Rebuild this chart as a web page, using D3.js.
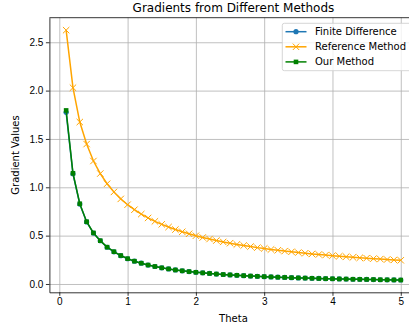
<!DOCTYPE html>
<html>
<head>
<meta charset="utf-8">
<script src="https://cdn.jsdelivr.net/npm/d3@7"></script>
<style>
  body { margin: 0; background: #fff; }
  svg { display: block; font-family: "DejaVu Sans", sans-serif; }
  .grid line { stroke: #b0b0b0; stroke-width: 0.8; }
  .grid path { display: none; }
  .axis path, .axis line { stroke: #000; stroke-width: 0.8; }
  .axis text { font-size: 10px; fill: #000; }
</style>
</head>
<body>
<svg id="chart" width="409" height="328"></svg>
<script>
const theta = [0.1, 0.2, 0.3, 0.4, 0.5, 0.6, 0.7, 0.8, 0.9, 1.0,
  1.1, 1.2, 1.3, 1.4, 1.5, 1.6, 1.7, 1.8, 1.9, 2.0,
  2.1, 2.2, 2.3, 2.4, 2.5, 2.6, 2.7, 2.8, 2.9, 3.0,
  3.1, 3.2, 3.3, 3.4, 3.5, 3.6, 3.7, 3.8, 3.9, 4.0,
  4.1, 4.2, 4.3, 4.4, 4.5, 4.6, 4.7, 4.8, 4.9, 5.0];

const finiteDiff = [1.775, 1.140, 0.826, 0.642, 0.527, 0.447, 0.380, 0.333, 0.293, 0.261,
  0.236, 0.215, 0.196, 0.181, 0.167, 0.156, 0.145, 0.136, 0.128, 0.121,
  0.115, 0.109, 0.103, 0.098, 0.094, 0.090, 0.086, 0.082, 0.079, 0.076,
  0.073, 0.070, 0.068, 0.065, 0.063, 0.061, 0.059, 0.057, 0.055, 0.054,
  0.052, 0.051, 0.049, 0.048, 0.047, 0.046, 0.044, 0.043, 0.042, 0.041];

const referenceMethod = [2.625, 2.030, 1.675, 1.447, 1.272, 1.142, 1.037, 0.952, 0.880, 0.820,
  0.768, 0.723, 0.683, 0.648, 0.617, 0.589, 0.563, 0.540, 0.519, 0.499,
  0.481, 0.465, 0.449, 0.435, 0.422, 0.409, 0.398, 0.387, 0.376, 0.367,
  0.357, 0.349, 0.340, 0.333, 0.325, 0.318, 0.311, 0.305, 0.299, 0.293,
  0.287, 0.282, 0.276, 0.271, 0.267, 0.262, 0.258, 0.253, 0.249, 0.245];

const ourMethod = [1.795, 1.145, 0.830, 0.644, 0.528, 0.448, 0.381, 0.334, 0.294, 0.262,
  0.236, 0.215, 0.196, 0.181, 0.167, 0.156, 0.145, 0.136, 0.128, 0.121,
  0.115, 0.109, 0.103, 0.098, 0.094, 0.090, 0.086, 0.082, 0.079, 0.076,
  0.073, 0.070, 0.068, 0.065, 0.063, 0.061, 0.059, 0.057, 0.055, 0.054,
  0.052, 0.051, 0.049, 0.048, 0.047, 0.046, 0.044, 0.043, 0.042, 0.041];

const xTicks = [0, 1, 2, 3, 4, 5];
const yTicks = [0.0, 0.5, 1.0, 1.5, 2.0, 2.5];

const svg = d3.select('#chart');

// axes box (right edge runs past the window, like the reference)
const axLeft = 49.4, axRight = 417.5, axTop = 17.7, axBottom = 292.3;

const x = d3.scaleLinear().domain([-0.145, 5.245]).range([axLeft, axRight]);
const y = d3.scaleLinear().domain([-0.086, 2.754]).range([axBottom, axTop]);

svg.append('defs').append('clipPath').attr('id', 'plotclip')
  .append('rect')
  .attr('x', axLeft).attr('y', axTop)
  .attr('width', axRight - axLeft).attr('height', axBottom - axTop);

// grid
svg.append('g')
  .attr('class', 'grid')
  .attr('transform', `translate(0,${axBottom})`)
  .call(d3.axisBottom(x).tickValues(xTicks).tickSize(-(axBottom - axTop)).tickFormat(() => ''));

svg.append('g')
  .attr('class', 'grid')
  .attr('transform', `translate(${axLeft},0)`)
  .call(d3.axisLeft(y).tickValues(yTicks).tickSize(-(axRight - axLeft)).tickFormat(() => ''));

// series
const series = [
  { name: 'Finite Difference', values: finiteDiff, color: '#1f77b4', marker: 'circle' },
  { name: 'Reference Method', values: referenceMethod, color: '#ffa500', marker: 'x' },
  { name: 'Our Method', values: ourMethod, color: '#008000', marker: 'square' }
];

const line = d3.line()
  .x(d => x(d[0]))
  .y(d => y(d[1]));

function drawMarker(g, kind, color, cx, cy) {
  if (kind === 'circle') {
    g.append('circle').attr('cx', cx).attr('cy', cy).attr('r', 2.6).attr('fill', color);
  } else if (kind === 'square') {
    g.append('rect').attr('x', cx - 2.3).attr('y', cy - 2.3)
      .attr('width', 4.6).attr('height', 4.6).attr('fill', color);
  } else {
    const s = 3.2;
    g.append('path')
      .attr('d', `M${cx - s},${cy - s}L${cx + s},${cy + s}M${cx - s},${cy + s}L${cx + s},${cy - s}`)
      .attr('stroke', color).attr('stroke-width', 1).attr('fill', 'none');
  }
}

const plot = svg.append('g').attr('clip-path', 'url(#plotclip)');

series.forEach(s => {
  const pts = theta.map((t, i) => [t, s.values[i]]);
  const g = plot.append('g');
  g.append('path')
    .datum(pts)
    .attr('d', line)
    .attr('fill', 'none')
    .attr('stroke', s.color)
    .attr('stroke-width', 1.5);
  pts.forEach(p => drawMarker(g, s.marker, s.color, x(p[0]), y(p[1])));
});

// axes
svg.append('g')
  .attr('class', 'axis')
  .attr('transform', `translate(0,${axBottom})`)
  .call(d3.axisBottom(x).tickValues(xTicks).tickSizeInner(3.5).tickSizeOuter(0).tickPadding(2.5).tickFormat(d3.format('d')));

svg.append('g')
  .attr('class', 'axis')
  .attr('transform', `translate(${axLeft},0)`)
  .call(d3.axisLeft(y).tickValues(yTicks).tickSizeInner(3.5).tickSizeOuter(0).tickPadding(2.5).tickFormat(d3.format('.1f')));

// top spine
svg.append('line')
  .attr('x1', axLeft).attr('x2', axRight).attr('y1', axTop).attr('y2', axTop)
  .attr('stroke', '#000').attr('stroke-width', 0.8);

// title and labels
svg.append('text')
  .attr('x', (axLeft + axRight) / 2).attr('y', 12)
  .attr('text-anchor', 'middle')
  .style('font-size', '12px')
  .text('Gradients from Different Methods');

svg.append('text')
  .attr('x', (axLeft + axRight) / 2).attr('y', 322)
  .attr('text-anchor', 'middle')
  .style('font-size', '10px')
  .text('Theta');

svg.append('text')
  .attr('transform', `translate(19,${(axTop + axBottom) / 2}) rotate(-90)`)
  .attr('text-anchor', 'middle')
  .style('font-size', '10px')
  .text('Gradient Values');

// legend
const legend = svg.append('g');
legend.append('rect')
  .attr('x', 282.3).attr('y', 23.3)
  .attr('width', 132).attr('height', 47.4)
  .attr('rx', 2)
  .attr('fill', '#fff').attr('fill-opacity', 0.8)
  .attr('stroke', '#cccccc').attr('stroke-width', 0.8);

series.forEach((s, i) => {
  const ly = 31.7 + i * 15.1;
  legend.append('line')
    .attr('x1', 285.5).attr('x2', 306.5).attr('y1', ly).attr('y2', ly)
    .attr('stroke', s.color).attr('stroke-width', 1.5);
  drawMarker(legend, s.marker, s.color, 296, ly);
  legend.append('text')
    .attr('x', 315).attr('y', ly)
    .attr('dy', '0.35em')
    .style('font-size', '10px')
    .text(s.name);
});
</script>
</body>
</html>
